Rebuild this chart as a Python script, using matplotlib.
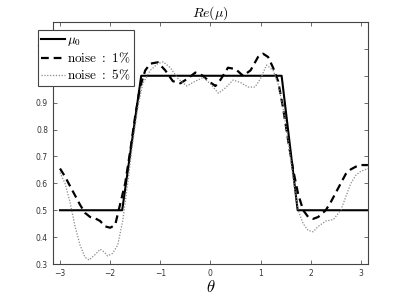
import numpy as np
import matplotlib.pyplot as plt

plt.rcParams['mathtext.fontset'] = 'cm'

# exact profile
theta_mu0 = [-3.0, -1.76, -1.38, 1.42, 1.74, np.pi]
mu0 = [0.5, 0.5, 1.0, 1.0, 0.5, 0.5]

# reconstruction with 1% noise
theta_n1 = [-3.0, -2.9, -2.8, -2.7, -2.6, -2.5, -2.4, -2.3, -2.2, -2.1, -2.0, -1.9,
            -1.83, -1.7, -1.6, -1.5, -1.4, -1.3, -1.2, -1.05, -0.9, -0.75, -0.6,
            -0.45, -0.3, -0.15, 0.0, 0.1, 0.2, 0.35, 0.5, 0.65, 0.8, 0.95, 1.05,
            1.15, 1.25, 1.35, 1.45, 1.55, 1.65, 1.75, 1.85, 1.95, 2.05, 2.15, 2.3,
            2.4, 2.5, 2.6, 2.7, 2.8, 2.9, 3.0, np.pi]
re_n1 = [0.655, 0.625, 0.59, 0.555, 0.52, 0.49, 0.475, 0.47, 0.46, 0.44, 0.435, 0.445,
         0.5, 0.6, 0.72, 0.85, 0.96, 1.02, 1.045, 1.05, 1.02, 0.98, 0.972,
         0.99, 1.012, 1.0, 0.975, 0.962, 0.985, 1.03, 1.025, 1.0, 1.02, 1.07, 1.082,
         1.07, 1.03, 0.98, 0.88, 0.76, 0.65, 0.56, 0.5, 0.475, 0.468, 0.475, 0.5,
         0.53, 0.565, 0.6, 0.635, 0.652, 0.662, 0.668, 0.668]

# reconstruction with 5% noise
theta_n5 = [-3.0, -2.9, -2.8, -2.7, -2.6, -2.5, -2.42, -2.3, -2.2, -2.12, -2.05, -1.95,
            -1.85, -1.75, -1.65, -1.55, -1.45, -1.35, -1.2, -1.05, -0.94, -0.8, -0.65,
            -0.47, -0.3, -0.14, 0.0, 0.16, 0.3, 0.45, 0.6, 0.75, 0.89, 1.0, 1.12,
            1.25, 1.35, 1.45, 1.55, 1.65, 1.75, 1.85, 1.95, 2.05, 2.15, 2.3, 2.45,
            2.6, 2.7, 2.8, 2.9, 3.0, np.pi]
re_n5 = [0.64, 0.6, 0.53, 0.44, 0.37, 0.325, 0.315, 0.335, 0.355, 0.345, 0.33, 0.34,
         0.37, 0.46, 0.6, 0.75, 0.88, 0.97, 1.02, 1.045, 1.052, 1.03, 0.99,
         0.962, 0.98, 0.994, 0.97, 0.935, 0.955, 0.984, 0.975, 0.958, 0.958, 0.99, 1.04,
         1.02, 0.97, 0.88, 0.76, 0.62, 0.5, 0.45, 0.425, 0.42, 0.44, 0.46, 0.465,
         0.5, 0.55, 0.6, 0.63, 0.645, 0.655]

fig = plt.figure(figsize=(4.07, 2.97), dpi=100)
ax = fig.add_axes([0.130, 0.111, 0.774, 0.815])

ax.plot(theta_mu0, mu0, color='black', lw=1.5, label=r'$\mu_0$')
ax.plot(theta_n1, re_n1, color='black', lw=1.6, ls=(0, (3.5, 2.2)),
        label=r'$\mathrm{noise\ :\ 1\%}$')
ax.plot(theta_n5, re_n5, color='#888888', lw=0.9, ls=(0, (1, 1.3)),
        label=r'$\mathrm{noise\ :\ 5\%}$')

ax.set_xlim(-np.pi, np.pi)
ax.set_ylim(0.3, 1.2)
ax.set_xticks([-3, -2, -1, 0, 1, 2, 3])
ax.set_yticks([0.3, 0.4, 0.5, 0.6, 0.7, 0.8, 0.9, 1.0, 1.1, 1.2])
ax.set_yticklabels(['0.3', '0.4', '0.5', '0.6', '0.7', '0.8', '0.9', '1', '1.1', ''])
ax.tick_params(direction='in', top=True, right=True, labelsize=5.5, length=3,
               width=0.6, color='#555555', labelcolor='#333333')
for s in ax.spines.values():
    s.set_color('#444444')
    s.set_linewidth(0.8)

ax.set_title(r'$Re(\mu)$', fontsize=10, pad=4)
ax.set_xlabel(r'$\theta$', fontsize=12, labelpad=0)

leg = ax.legend(loc='upper left', bbox_to_anchor=(-0.048, 0.967), fontsize=9.5,
                handlelength=1.8, handletextpad=0.2, borderpad=0.25,
                labelspacing=0.2, fancybox=False, framealpha=1,
                borderaxespad=0)
leg.get_frame().set_edgecolor('#444444')
leg.get_frame().set_linewidth(0.8)

fig.savefig('out.png', dpi=100)
